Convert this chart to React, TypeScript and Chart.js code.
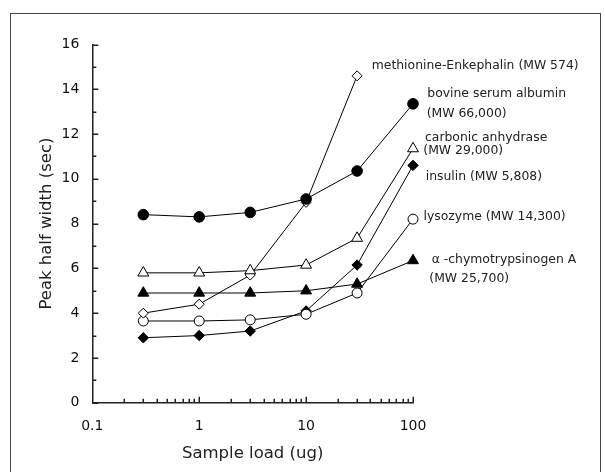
import { useEffect, useRef } from "react";
import { Chart, registerables } from "chart.js";

Chart.register(...registerables);

// ---- data ----
const sampleLoads = [0.3, 1, 3, 10, 30, 100];
const bovineSerumAlbumin = [8.4, 8.3, 8.5, 9.1, 10.35, 13.35];
const carbonicAnhydrase = [5.8, 5.8, 5.9, 6.15, 7.35, 11.35];
const chymotrypsinogenA = [4.9, 4.9, 4.9, 5.0, 5.3, 6.35];
const metEnkephalin = [4.0, 4.4, 5.7, 8.95, 14.6];
const lysozyme = [3.65, 3.65, 3.7, 3.95, 4.9, 8.2];
const insulin = [2.9, 3.0, 3.2, 4.1, 6.15, 10.6];

const xTickValues = [0.1, 1, 10, 100];
const yTickValues = [0, 2, 4, 6, 8, 10, 12, 14, 16];

const seriesNames = [
  "bovine serum albumin",
  "carbonic anhydrase",
  "α-chymotrypsinogen A",
  "methionine-Enkephalin",
  "lysozyme",
  "insulin",
];

const annotationLines = [
  "methionine-Enkephalin (MW 574)",
  "bovine serum albumin",
  "(MW 66,000)",
  "carbonic anhydrase",
  "(MW 29,000)",
  "insulin (MW 5,808)",
  "lysozyme (MW 14,300)",
  "α -chymotrypsinogen A",
  "(MW 25,700)",
];

// layout (pixels) for annotation text, kept apart from data
const annotationPos: [number, number][] = [
  [371.7, 66],
  [427.3, 93.5],
  [426.7, 113.5],
  [425, 138],
  [423.3, 151],
  [425.7, 176.5],
  [423.5, 217],
  [431.7, 260],
  [429.3, 279],
];

const FONT = '"DejaVu Sans", sans-serif';

const toPoints = (vals: number[]) => vals.map((v, i) => ({ x: sampleLoads[i], y: v }));

const decorPlugin = {
  id: "decor",
  beforeDraw(chart: any) {
    const ctx = chart.ctx;
    ctx.save();
    ctx.fillStyle = "#fff";
    ctx.fillRect(0, 0, chart.width, chart.height);
    ctx.strokeStyle = "#444";
    ctx.lineWidth = 1;
    ctx.strokeRect(10.5, 13.5, 590, 480);
    ctx.restore();
  },
  afterDraw(chart: any) {
    const ctx = chart.ctx;
    const { x, y } = chart.scales;
    const area = chart.chartArea;
    ctx.save();
    ctx.strokeStyle = "#222";
    ctx.lineWidth = 1.5;
    ctx.beginPath();
    for (let v = 0; v <= 16; v++) {
      const py = Math.round(y.getPixelForValue(v)) + 0.25;
      const len = v % 2 === 0 ? 6 : 4;
      ctx.moveTo(area.left, py);
      ctx.lineTo(area.left + len, py);
    }
    for (const dec of [0.1, 1, 10]) {
      for (let m = 1; m <= 9; m++) {
        if (dec === 0.1 && m === 1) continue;
        const px = Math.round(x.getPixelForValue(m * dec)) + 0.25;
        const len = m === 1 ? 6 : 4;
        ctx.moveTo(px, area.bottom);
        ctx.lineTo(px, area.bottom - len);
      }
    }
    const p100 = Math.round(x.getPixelForValue(100)) + 0.25;
    ctx.moveTo(p100, area.bottom);
    ctx.lineTo(p100, area.bottom - 6);
    ctx.stroke();

    ctx.fillStyle = "#222";
    ctx.font = `12.4px ${FONT}`;
    ctx.textAlign = "left";
    ctx.textBaseline = "middle";
    annotationLines.forEach((t, i) => {
      const [tx, ty] = annotationPos[i];
      ctx.fillText(t, tx, ty);
    });
    ctx.restore();
  },
};

export default function App() {
  const ref = useRef<HTMLCanvasElement | null>(null);

  useEffect(() => {
    if (!ref.current) return;
    const base = {
      borderColor: "#000",
      borderWidth: 1,
      pointBorderColor: "#000",
      pointBorderWidth: 1,
      clip: false as any,
      tension: 0,
    };
    const chart = new Chart(ref.current, {
      type: "line",
      data: {
        datasets: [
          {
            ...base,
            label: seriesNames[0],
            data: toPoints(bovineSerumAlbumin),
            pointStyle: "circle",
            pointRadius: 5.3,
            pointBackgroundColor: "#000",
          },
          {
            ...base,
            label: seriesNames[1],
            data: toPoints(carbonicAnhydrase),
            pointStyle: "triangle",
            pointRadius: 6.3,
            pointBackgroundColor: "#fff",
          },
          {
            ...base,
            label: seriesNames[2],
            data: toPoints(chymotrypsinogenA),
            pointStyle: "triangle",
            pointRadius: 6.3,
            pointBackgroundColor: "#000",
          },
          {
            ...base,
            label: seriesNames[3],
            data: toPoints(metEnkephalin),
            pointStyle: "rectRot",
            pointRadius: 5,
            pointBackgroundColor: "#fff",
          },
          {
            ...base,
            label: seriesNames[4],
            data: toPoints(lysozyme),
            pointStyle: "circle",
            pointRadius: 5,
            pointBackgroundColor: "#fff",
          },
          {
            ...base,
            label: seriesNames[5],
            data: toPoints(insulin),
            pointStyle: "rectRot",
            pointRadius: 5.2,
            pointBackgroundColor: "#000",
          },
        ] as any,
      },
      options: {
        responsive: false,
        animation: false,
        layout: { padding: { left: 0, right: 192, top: 44.5, bottom: 0 } },
        plugins: {
          legend: { display: false },
          tooltip: { enabled: false },
        },
        scales: {
          x: {
            type: "logarithmic",
            position: "bottom",
            min: 0.1,
            max: 100,
            grid: { display: false, drawTicks: false },
            border: { display: true, color: "#222", width: 1.5 },
            afterBuildTicks: (scale: any) => {
              scale.ticks = xTickValues.map((v) => ({ value: v }));
            },
            afterFit: (scale: any) => {
              scale.height = 69.3;
            },
            ticks: {
              autoSkip: false,
              maxRotation: 0,
              padding: 15,
              color: "#111",
              font: { family: FONT, size: 14 },
              callback: (v: any) => String(v),
            },
            title: {
              display: true,
              text: "Sample load (ug)",
              color: "#222",
              font: { family: FONT, size: 16.5 },
              padding: { top: 0, bottom: 8.6 },
            },
          },
          y: {
            type: "linear",
            min: 0,
            max: 16,
            afterBuildTicks: (scale: any) => {
              scale.ticks = yTickValues.map((v) => ({ value: v }));
            },
            afterFit: (scale: any) => {
              scale.width = 92.3;
            },
            grid: { display: false, drawTicks: false },
            border: { display: true, color: "#222", width: 1.5 },
            ticks: {
              padding: 13,
              color: "#111",
              font: { family: FONT, size: 14 },
            },
            title: {
              display: true,
              text: "Peak half width (sec)",
              color: "#222",
              font: { family: FONT, size: 16.5 },
              padding: { top: 36.6, bottom: 0 },
            },
          },
        },
      },
      plugins: [decorPlugin],
    });
    return () => chart.destroy();
  }, []);

  return (
    <div style={{ position: "fixed", left: 0, top: 0, width: 605, height: 472 }}>
      <canvas ref={ref} width={605} height={472} style={{ display: "block" }} />
    </div>
  );
}
